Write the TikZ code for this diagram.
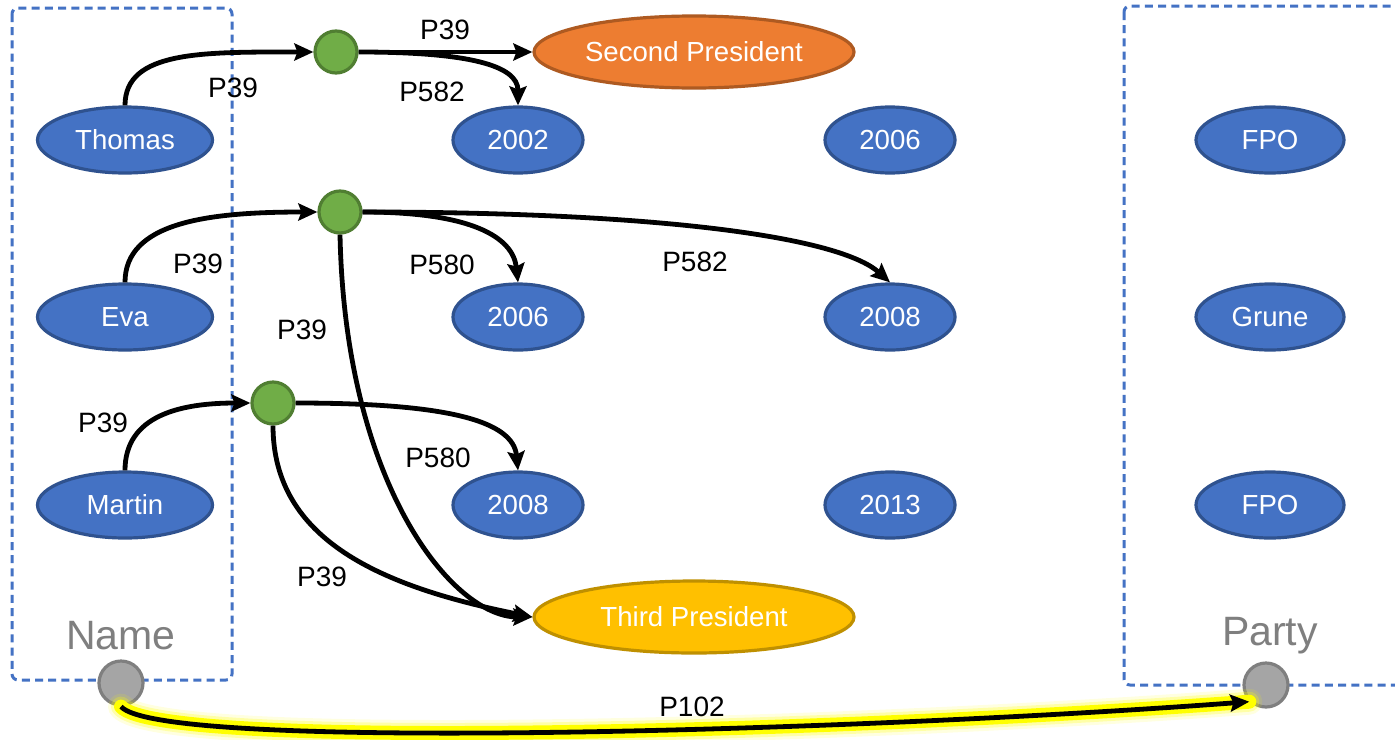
\documentclass[tikz,border=0pt]{standalone}
\usepackage{fontspec}
\setmainfont{Liberation Sans}
\usetikzlibrary{shapes.geometric,arrows.meta}
\definecolor{entfill}{HTML}{4472C4}
\definecolor{entline}{HTML}{2F528F}
\definecolor{orfill}{HTML}{ED7D31}
\definecolor{orline}{HTML}{AE5A21}
\definecolor{gdfill}{HTML}{FFC000}
\definecolor{gdline}{HTML}{BF9000}
\definecolor{grfill}{HTML}{70AD47}
\definecolor{grline}{HTML}{507E32}
\definecolor{gyfill}{HTML}{A5A5A5}
\definecolor{gyline}{HTML}{7F7F7F}
\definecolor{glow}{HTML}{FFFF00}
\begin{document}
\begin{tikzpicture}[x=0.5pt,y=-0.5pt,
  entity/.style={ellipse,draw=entline,fill=entfill,line width=1.6pt,inner sep=0pt,
    minimum width=87.5pt,minimum height=33pt,text=white,font=\fontsize{13.8}{16}\selectfont},
  year/.style={entity,minimum width=65pt},
  party/.style={entity,minimum width=74pt},
  office/.style={entity,minimum width=160pt,minimum height=36pt},
  hub/.style={circle,draw=grline,fill=grfill,line width=1.6pt,minimum size=21pt,inner sep=0pt},
  anchorpt/.style={circle,draw=gyline,fill=gyfill,line width=1.6pt,minimum size=22pt,inner sep=0pt},
  rel/.style={draw=black,line width=2.4pt,-{Stealth[length=9.5pt,width=8.5pt,inset=1.5pt]}},
  lbl/.style={font=\fontsize{14}{16}\selectfont,inner sep=0pt},
  group/.style={draw=entfill,line width=1.5pt,dash pattern=on 4pt off 2.6pt,rounded corners=3pt},
  grouptitle/.style={text=gyline,font=\fontsize{20.5}{24}\selectfont,inner sep=0pt},
  plink/.style={line cap=round}]

\clip (0,0) rectangle (1395,739);
\fill[white] (0,0) rectangle (1395,739);

% column groups
\draw[group] (12,8) rectangle (232,680);
\draw[group] (1124,6) rectangle (1430,685);
\node[grouptitle] (nametitle) at (121,636) {Name};
\node[grouptitle] (partytitle) at (1270,636) {Party};

% people
\node[entity] (thomas) at (125,140) {Thomas};
\node[entity] (eva) at (125,317) {Eva};
\node[entity] (martin) at (125,505) {Martin};

% years
\node[year] (y2002) at (518,140) {2002};
\node[year] (y2006a) at (890,140) {2006};
\node[year] (y2006b) at (518,317) {2006};
\node[year] (y2008a) at (890,317) {2008};
\node[year] (y2008b) at (518,505) {2008};
\node[year] (y2013) at (890,505) {2013};

% parties
\node[party] (fpo1) at (1270,140) {FPO};
\node[party] (grune) at (1270,317) {Grune};
\node[party] (fpo2) at (1270,505) {FPO};

% offices
\node[office,fill=orfill,draw=orline] (second) at (694,52) {Second President};
\node[office,fill=gdfill,draw=gdline] (third) at (694,617) {Third President};

% statement hubs
\node[hub] (h1) at (336,52) {};
\node[hub] (h2) at (340,212) {};
\node[hub] (h3) at (273,403) {};

% property anchors
\node[anchorpt] (pname) at (121,683) {};
\node[anchorpt] (pparty) at (1266,685) {};

% Thomas
\draw[rel] (thomas.north) .. controls +(0,-55) and +(-110,0) .. (h1.west);
\draw[rel] (h1.east) -- (second.west);
\draw[rel] (h1.east) .. controls +(110,0) and +(0,-40) .. (y2002.north);
% Eva
\draw[rel] (eva.north) .. controls +(0,-60) and +(-110,0) .. (h2.west);
\draw[rel] (h2.east) .. controls +(110,0) and +(-5,-45) .. (y2006b.north);
\draw[rel] (h2.east) .. controls +(300,0) and +(-50,-45) .. (y2008a.north);
\draw[rel] (h2.south) .. controls +(5,250) and +(-80,0) .. (third.west);
% Martin
\draw[rel] (martin.north) .. controls +(0,-55) and +(-70,0) .. (h3.west);
\draw[rel] (h3.east) .. controls +(150,0) and +(-5,-50) .. (y2008b.north);
\draw[rel] (h3.south) .. controls +(0,115) and +(-150,-30) .. (third.west);

% property link with highlight
\foreach \w/\o in {13/0.12,10/0.25,7/1} {
  \draw[plink,glow,opacity=\o,line width=\w pt] (pname.south) .. controls +(40,45) and +(-400,30) .. (pparty.south west);
}
\draw[rel] (pname.south) .. controls +(40,45) and +(-400,30) .. (pparty.south west);

% edge labels
\node[lbl] (l1) at (233,88) {P39};
\node[lbl] (l2) at (445,30) {P39};
\node[lbl] (l3) at (432,92) {P582};
\node[lbl] (l4) at (198,264) {P39};
\node[lbl] (l5) at (442,265) {P580};
\node[lbl] (l6) at (695,262) {P582};
\node[lbl] (l7) at (302,330) {P39};
\node[lbl] (l8) at (103,423) {P39};
\node[lbl] (l9) at (438,458) {P580};
\node[lbl] (l10) at (322,577) {P39};
\node[lbl] (l11) at (692,707) {P102};
\end{tikzpicture}
\end{document}
